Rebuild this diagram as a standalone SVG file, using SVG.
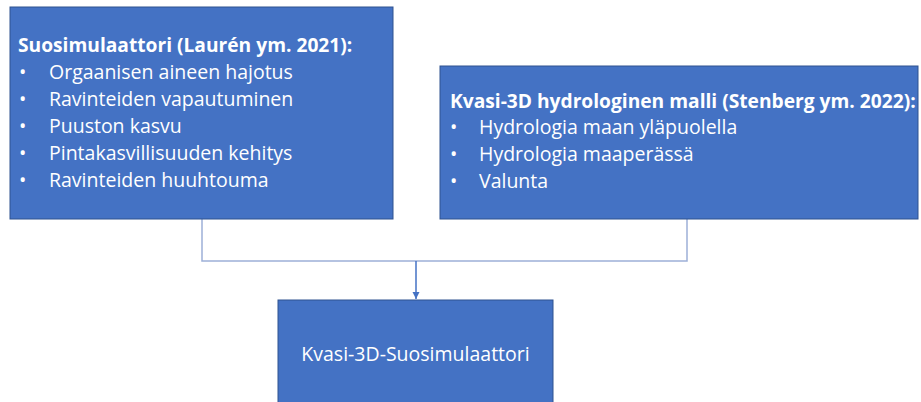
<svg xmlns="http://www.w3.org/2000/svg" width="921" height="402" viewBox="0 0 921 402">
<style>
.box{fill:#4472C4;stroke:#2F528F;stroke-width:1}
.t{font-family:"Open Sans","Liberation Sans",sans-serif;font-size:19.5px;fill:#FFFFFF}
.b{font-weight:bold;font-size:19.2px}
.conn{fill:none;stroke:#9DB0D8;stroke-width:1.5}
.arrow{fill:none;stroke:#4472C4;stroke-width:1.5}
</style>
<defs>
<marker id="ah" viewBox="0 0 10 10" refX="10" refY="5" markerWidth="5" markerHeight="5" orient="auto" markerUnits="strokeWidth">
<path d="M0,0 L10,5 L0,10 z" fill="#4472C4"/>
</marker>
</defs>
<rect width="921" height="402" fill="#FFFFFF"/>
<g id="connectors">
<path class="conn" d="M202,219 V261 H687 V219"/>
<path class="arrow" d="M416,261 V299" marker-end="url(#ah)"/>
</g>
<g id="node1">
<rect class="box" x="10" y="7" width="383" height="212"/>
<text class="t b" x="18" y="52">Suosimulaattori (Laurén ym. 2021):</text>
<text class="t" x="19" y="79">•</text><text class="t" x="49" y="79">Orgaanisen aineen hajotus</text>
<text class="t" x="19" y="106">•</text><text class="t" x="49" y="106">Ravinteiden vapautuminen</text>
<text class="t" x="19" y="133">•</text><text class="t" x="49" y="133">Puuston kasvu</text>
<text class="t" x="19" y="160">•</text><text class="t" x="49" y="160">Pintakasvillisuuden kehitys</text>
<text class="t" x="19" y="187">•</text><text class="t" x="49" y="187">Ravinteiden huuhtouma</text>
</g>
<g id="node2">
<rect class="box" x="440" y="66" width="478" height="153"/>
<text class="t b" x="450" y="108">Kvasi-3D hydrologinen malli (Stenberg ym. 2022):</text>
<text class="t" x="450" y="134">•</text><text class="t" x="479" y="134">Hydrologia maan yläpuolella</text>
<text class="t" x="450" y="161">•</text><text class="t" x="479" y="161">Hydrologia maaperässä</text>
<text class="t" x="450" y="188">•</text><text class="t" x="479" y="188">Valunta</text>
</g>
<g id="node3">
<rect class="box" x="278" y="300" width="275" height="110"/>
<text class="t" x="415.5" y="361" text-anchor="middle">Kvasi-3D-Suosimulaattori</text>
</g>
</svg>
